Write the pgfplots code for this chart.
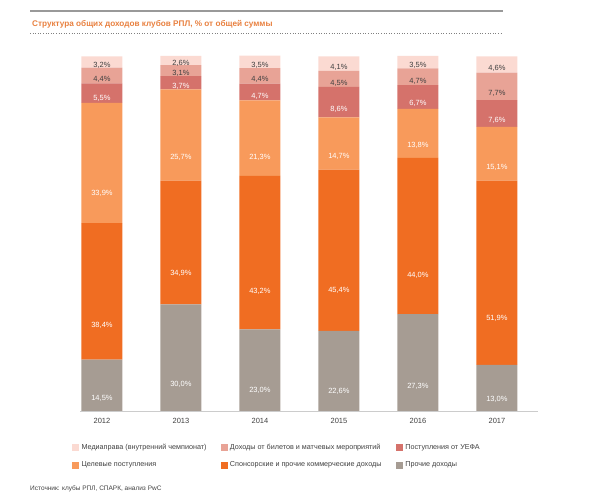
\documentclass[border=0pt]{standalone}
\usepackage{pgfplots}
\usepackage{pgfplotstable}
\pgfplotsset{compat=1.18}
\usepackage{fontspec}
\setmainfont{Liberation Sans}
\definecolor{cMedia}{HTML}{FBDAD2}
\definecolor{cTick}{HTML}{E8A396}
\definecolor{cUefa}{HTML}{D5726B}
\definecolor{cTarget}{HTML}{F89A5B}
\definecolor{cSponsor}{HTML}{F06D22}
\definecolor{cOther}{HTML}{A69C93}
\definecolor{cTitle}{HTML}{E8803F}
\definecolor{cText}{HTML}{404040}
\pgfplotstableread{
x other sponsor target uefa tickets media
0 14.5 38.4 33.9 5.5 4.4 3.2
1 30.0 34.9 25.7 3.7 3.1 2.6
2 23.0 43.2 21.3 4.7 4.4 3.5
3 22.6 45.4 14.7 8.6 4.5 4.1
4 27.3 44.0 13.8 6.7 4.7 3.5
5 13.0 51.9 15.1 7.6 7.7 4.6
}\data
\pgfplotsset{
  sq/.style={legend image code/.code={\fill[#1] (0pt,-3pt) rectangle (6pt,3pt);}},
  calc offset/.code={\pgfkeys{/pgf/fpu=true,/pgf/fpu/output format=fixed}\pgfmathsetmacro\myoff{-0.8875*\pgfplotspointmeta}\pgfkeys{/pgf/fpu=false}},
}
\begin{document}
\begin{tikzpicture}[x=1pt,y=1pt]
\path (0,0) rectangle (600,498);
\draw[line width=1.5pt, color=black!40] (30,487) -- (503,487);
\node[anchor=west, text=cTitle, font=\bfseries\fontsize{8.2}{10}\selectfont, inner sep=0] at (32,474) {Структура общих доходов клубов РПЛ, \% от общей суммы};
\draw[dotted, black!50, line width=0.6pt] (30,465) -- (503,465);
\node[anchor=west, text=cText, font=\fontsize{6.5}{8}\selectfont, inner sep=0] at (30,9) {Источник: клубы РПЛ, СПАРК, анализ PwC};
\begin{axis}[
  at={(80pt,87pt)}, anchor=south west,
  scale only axis, width=458pt, height=358.55pt,
  disabledatascaling,
  xmin=-0.278, xmax=5.52, ymin=0, ymax=101,
  ybar stacked, bar width=41pt,
  axis y line=none, axis x line*=bottom,
  x axis line style={draw=black!20, line width=0.8pt, -},
  xtick={0,1,2,3,4,5},
  xticklabels={2012,2013,2014,2015,2016,2017},
  major tick length=0pt,
  xticklabel style={anchor=center, yshift=-9.5pt, text=cText, font=\fontsize{7.5}{9}\selectfont},
  nodes near coords={\pgfmathprintnumber[fixed,fixed zerofill,precision=1,use comma,assume math mode=true]{\pgfplotspointmeta}\%},
  every node near coord/.append style={/pgfplots/calc offset, anchor=center, yshift=\myoff pt, font=\fontsize{7.5}{9}\selectfont, text=white},
  legend columns=3,
  legend cell align=left,
  legend style={at={(-0.0175,-0.089)}, anchor=north west, draw=none, fill=none, inner sep=0pt,
    font=\fontsize{7.2}{8.5}\selectfont, text=cText, row sep=9pt, nodes={inner sep=1pt}},
]
\addplot[fill=cOther, draw=none, forget plot] table[x=x, y=other] {\data};
\addplot[fill=cSponsor, draw=none, forget plot] table[x=x, y=sponsor] {\data};
\addplot[fill=cTarget, draw=none, forget plot] table[x=x, y=target] {\data};
\addplot[fill=cUefa, draw=none, forget plot] table[x=x, y=uefa] {\data};
\addplot[fill=cTick, draw=none, forget plot, every node near coord/.append style={text=cText}] table[x=x, y=tickets] {\data};
\addplot[fill=cMedia, draw=none, forget plot, every node near coord/.append style={text=cText}] table[x=x, y=media] {\data};
\addlegendimage{sq=cMedia}
\addlegendentry{\hspace{2pt}\makebox[138pt][l]{Медиаправа (внутренний чемпионат)}}
\addlegendimage{sq=cTick}
\addlegendentry{\hspace{2pt}\makebox[165pt][l]{Доходы от билетов и матчевых мероприятий}}
\addlegendimage{sq=cUefa}
\addlegendentry{\hspace{2pt}Поступления от УЕФА}
\addlegendimage{sq=cTarget}
\addlegendentry{\hspace{2pt}\makebox[138pt][l]{Целевые поступления}}
\addlegendimage{sq=cSponsor}
\addlegendentry{\hspace{2pt}\makebox[165pt][l]{Спонсорские и прочие коммерческие доходы}}
\addlegendimage{sq=cOther}
\addlegendentry{\hspace{2pt}Прочие доходы}
\end{axis}
\end{tikzpicture}
\end{document}
